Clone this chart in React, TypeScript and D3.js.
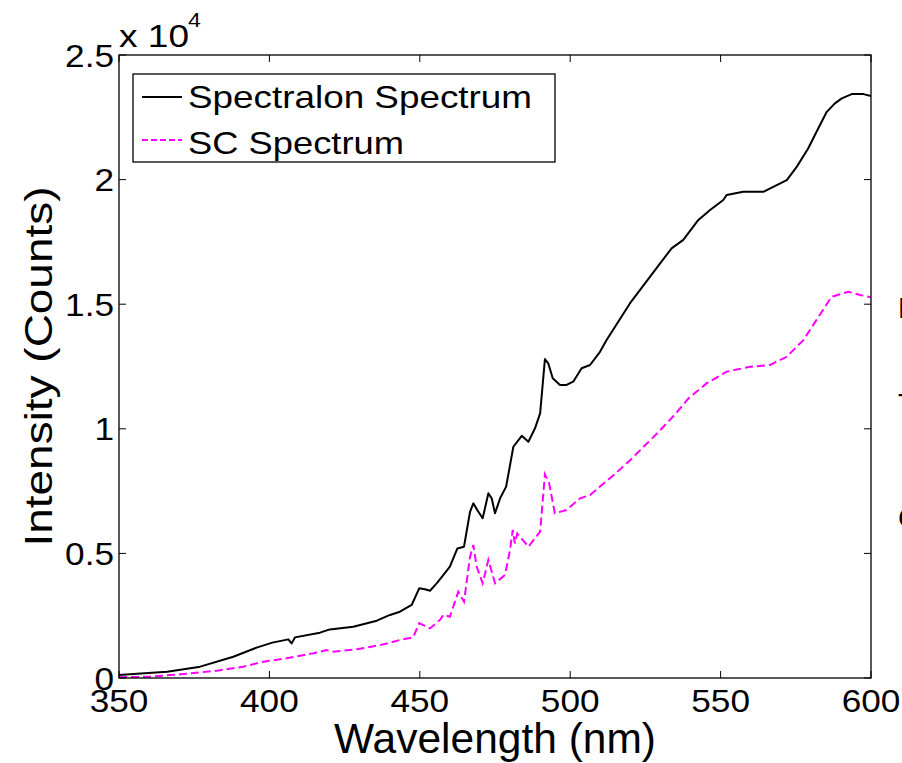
import React from "react";
import * as d3 from "d3";

const spectralonNm = [350, 356, 366, 377, 388, 396, 401, 406.3, 407.4, 408.5, 416.8, 420.1, 427.9, 435.7, 440.1, 443.4, 447.3, 449.8, 451.7, 453.4, 455.6, 457.8, 460, 462.5, 464.7, 466.7, 467.8, 469.1, 470.9, 472.8, 473.9, 475, 476.7, 478.7, 481.1, 483.9, 486.1, 488.3, 490, 491.6, 492.7, 494.2, 496.6, 498.8, 501, 503.8, 506.6, 509.9, 512.1, 519.9, 529.9, 533.7, 537.6, 542.6, 546.5, 550.9, 552, 557.5, 564.2, 567.5, 572, 575.3, 579.1, 581.9, 585.3, 588, 590.3, 593.6, 597.5, 600];
const spectralonCounts = [120, 170, 250, 455, 855, 1230, 1420, 1550, 1390, 1630, 1820, 1950, 2060, 2300, 2530, 2660, 2930, 3600, 3560, 3500, 3800, 4130, 4470, 5200, 5270, 6670, 7010, 6740, 6410, 7410, 7210, 6610, 7210, 7680, 9280, 9720, 9480, 10020, 10620, 12800, 12630, 12030, 11760, 11760, 11890, 12430, 12560, 13090, 13560, 15040, 16640, 17240, 17580, 18380, 18780, 19180, 19380, 19510, 19510, 19710, 19980, 20510, 21250, 21920, 22720, 23060, 23260, 23430, 23430, 23350];

const scNm = [350, 360.3, 371.4, 382.5, 391.3, 398, 405.7, 414.6, 419, 421.2, 429, 436.8, 440.1, 443.4, 447.8, 449.8, 451.5, 453.4, 456.7, 457.8, 460, 462.8, 464.7, 466.7, 467.8, 468.9, 470.9, 472.8, 475, 478.3, 480, 480.9, 481.6, 482.4, 486.1, 490, 491.6, 493, 494.9, 498.8, 503.3, 506.6, 509.9, 515, 520, 525, 530, 535, 539.3, 545.4, 552, 559.8, 566.4, 572, 577.5, 581.9, 586.9, 592.5, 596.4, 600];
const scCounts = [30, 50, 160, 290, 455, 655, 790, 990, 1120, 1055, 1150, 1320, 1420, 1525, 1630, 2200, 2100, 1990, 2330, 2530, 2460, 3460, 3060, 4870, 5340, 4470, 3800, 4740, 3800, 4130, 5140, 5940, 5400, 5800, 5270, 5870, 8170, 7810, 6610, 6740, 7210, 7340, 7680, 8200, 8750, 9350, 9950, 10600, 11220, 11830, 12290, 12490, 12560, 12890, 13560, 14370, 15300, 15500, 15370, 15280];

const xTicks = [350, 400, 450, 500, 550, 600];
const yTicks = [0, 5000, 10000, 15000, 20000, 25000];
const yTickLabels = ["0", "0.5", "1", "1.5", "2", "2.5"];
const legendLabels = ["Spectralon Spectrum", "SC Spectrum"];

const W = 902;
const H = 763;
const L = 119, R = 871, T = 55, B = 678;
const FONT = "'Liberation Sans', Arial, Helvetica, sans-serif";
const SX = 1.1;

export default function App() {
  const x = d3.scaleLinear().domain([350, 600]).range([L, R]);
  const y = d3.scaleLinear().domain([0, 25000]).range([B, T]);
  const line = d3.line<[number, number]>().x((d) => x(d[0])).y((d) => y(d[1]));
  const specPath = line(spectralonNm.map((n, i) => [n, spectralonCounts[i]]) as [number, number][]) || "";
  const scPath = line(scNm.map((n, i) => [n, scCounts[i]]) as [number, number][]) || "";
  const tl = 7;

  return (
    <svg width={W} height={H} style={{ position: "absolute", left: 0, top: 0, background: "#fff" }} fontFamily={FONT}>
      <rect x={0} y={0} width={W} height={H} fill="#fff" />
      <defs>
        <clipPath id="plotclip">
          <rect x={L} y={T - 2} width={R - L} height={B - T + 4} />
        </clipPath>
      </defs>
      <g clipPath="url(#plotclip)">
        <path d={scPath} fill="none" stroke="#ff00ff" strokeWidth={2} strokeDasharray="8,4" />
        <path d={specPath} fill="none" stroke="#000" strokeWidth={2} strokeLinejoin="round" />
      </g>
      <rect x={L} y={T} width={R - L} height={B - T} fill="none" stroke="#000" strokeWidth={1.3} />
      {xTicks.map((t) => (
        <g key={"xt" + t}>
          <line x1={x(t)} x2={x(t)} y1={B} y2={B - tl} stroke="#000" strokeWidth={1} />
          <line x1={x(t)} x2={x(t)} y1={T} y2={T + tl} stroke="#000" strokeWidth={1} />
          <text transform={`translate(${x(t)},712) scale(${SX},1)`} textAnchor="middle" fontSize={32} fill="#000">
            {t}
          </text>
        </g>
      ))}
      {yTicks.map((t, i) => (
        <g key={"yt" + t}>
          <line x1={L} x2={L + tl} y1={y(t)} y2={y(t)} stroke="#000" strokeWidth={1} />
          <line x1={R} x2={R - tl} y1={y(t)} y2={y(t)} stroke="#000" strokeWidth={1} />
          <text transform={`translate(114,${y(t) + 11.5}) scale(${SX},1)`} textAnchor="end" fontSize={32} fill="#000">
            {yTickLabels[i]}
          </text>
        </g>
      ))}
      <text x={119} y={47} fontSize={32} textLength={70} lengthAdjust="spacingAndGlyphs" fill="#000">x 10</text>
      <text x={188} y={27} fontSize={21} fill="#000" transform="translate(188,0) scale(1.1,1) translate(-188,0)">4</text>
      <text x={(L + R) / 2} y={753} textAnchor="middle" fontSize={42} textLength={322} lengthAdjust="spacingAndGlyphs" fill="#000">
        Wavelength (nm)
      </text>
      <text transform={`translate(52,${(T + B) / 2}) rotate(-90)`} textAnchor="middle" fontSize={38} textLength={360} lengthAdjust="spacingAndGlyphs" fill="#000">
        Intensity (Counts)
      </text>
      <rect x={133} y={74} width={422} height={88} fill="#fff" stroke="#000" strokeWidth={1.3} />
      <line x1={142} x2={182} y1={97} y2={97} stroke="#000" strokeWidth={2} />
      <line x1={142} x2={182} y1={140} y2={140} stroke="#ff00ff" strokeWidth={2} strokeDasharray="6,3" />
      <text x={188} y={108} fontSize={32} textLength={344} lengthAdjust="spacingAndGlyphs" fill="#000">{legendLabels[0]}</text>
      <text x={188} y={154} fontSize={32} textLength={216} lengthAdjust="spacingAndGlyphs" fill="#000">{legendLabels[1]}</text>
      <text x={898} y={318} fontSize={29} fill="#000">P</text>
      <text x={898} y={414} fontSize={29} fill="#000">T</text>
      <text x={898} y={528} fontSize={29} fill="#000">C</text>
    </svg>
  );
}
